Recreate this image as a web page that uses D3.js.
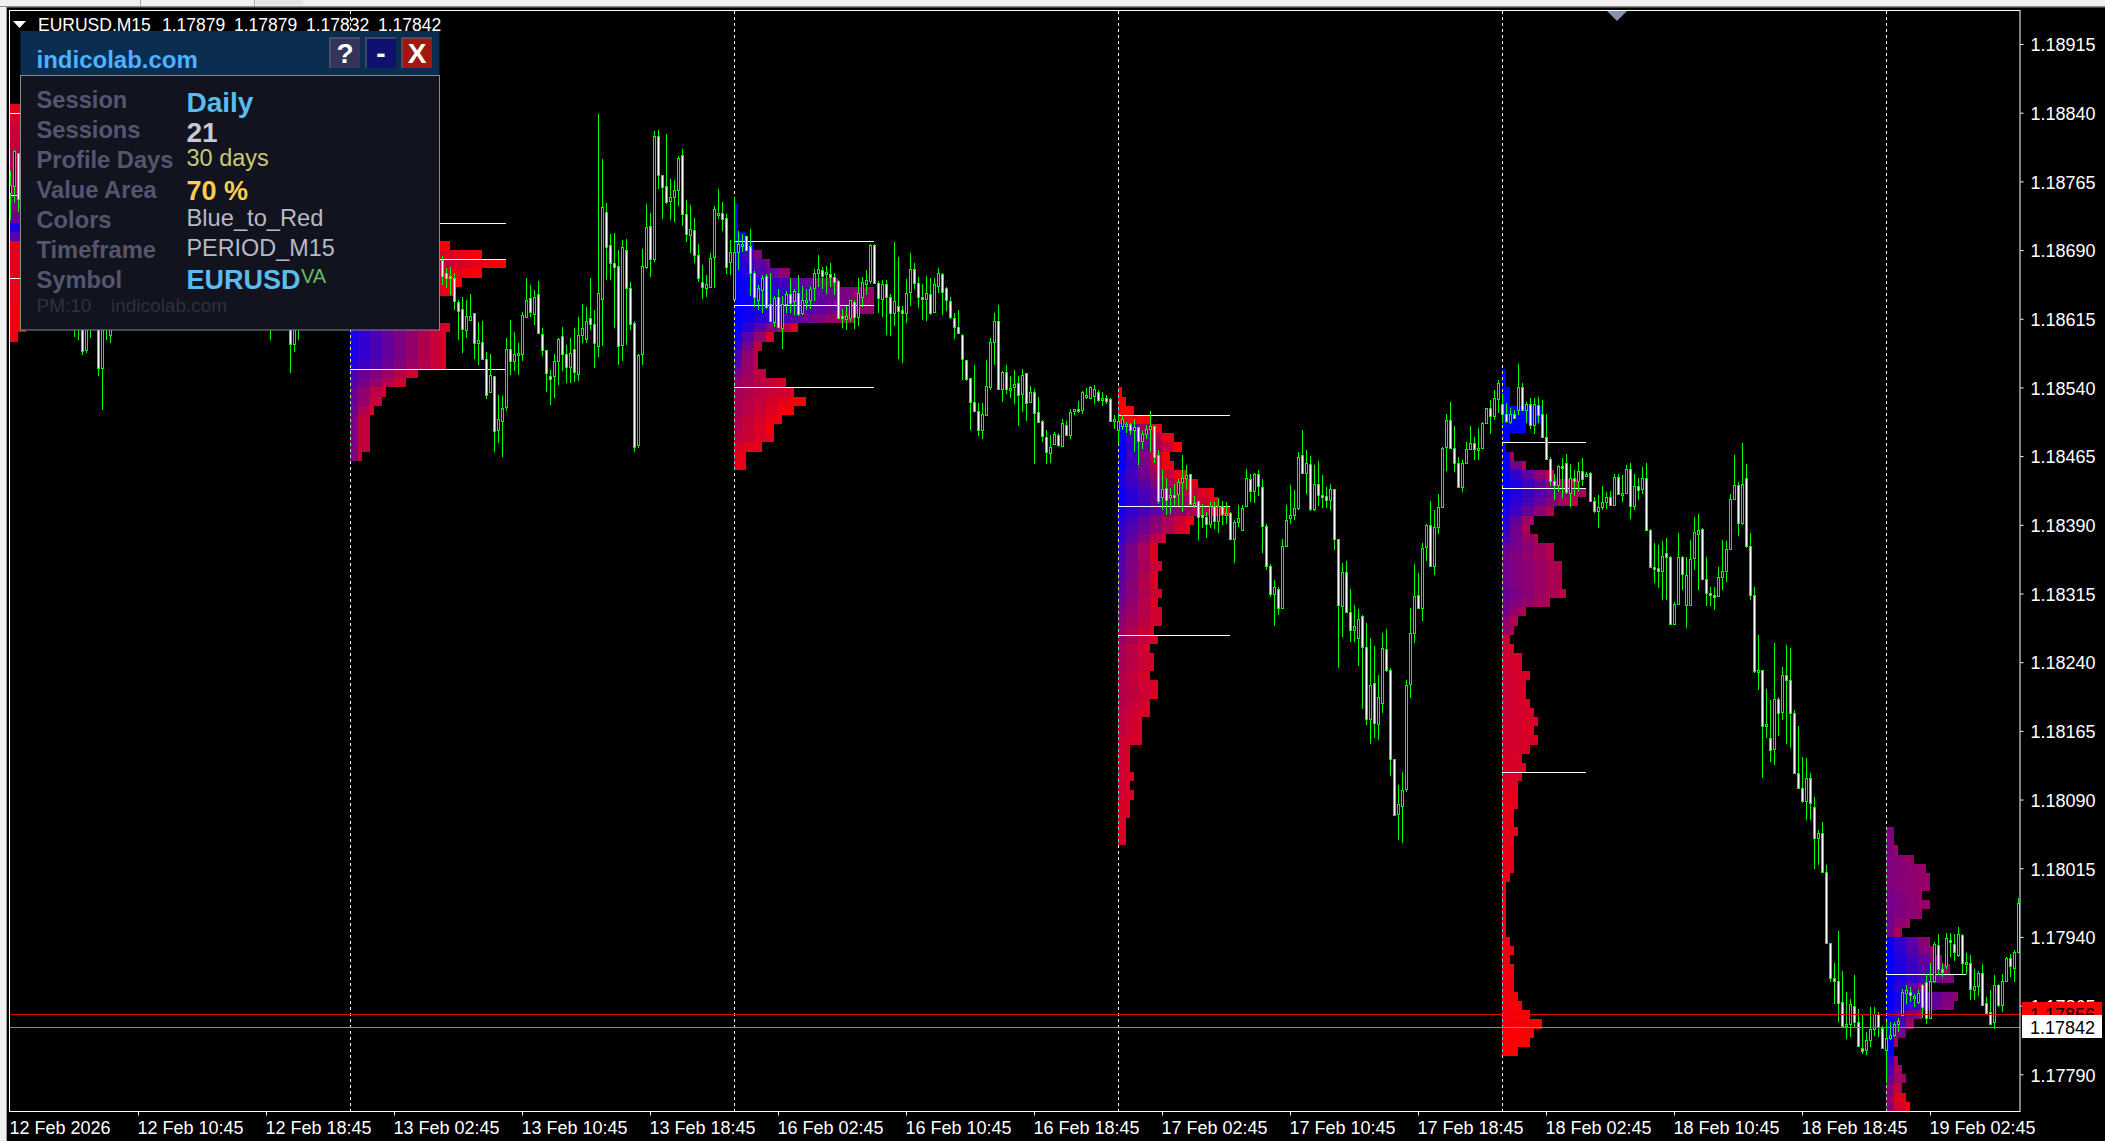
<!DOCTYPE html>
<html><head><meta charset="utf-8">
<script src="https://cdn.jsdelivr.net/npm/d3@7/dist/d3.min.js"></script>
<style>html,body{margin:0;padding:0;background:#000;overflow:hidden}svg{display:block;isolation:isolate}text{font-family:"Liberation Sans",Arial,sans-serif}</style>
</head><body><div id="chart"></div>
<script>
// Prices are in 1/100000 above 1.0 (18690 = 1.18690). Bars are [open, high, low, close].
const priceTicks=[18915,18840,18765,18690,18615,18540,18465,18390,18315,18240,18165,18090,18015,17940,17865,17790];
const timeTickBars=[0,32,64,96,128,160,192,224,256,288,320,352,384,416,448,480];
const timeLabels=["12 Feb 2026","12 Feb 10:45","12 Feb 18:45","13 Feb 02:45","13 Feb 10:45","13 Feb 18:45","16 Feb 02:45","16 Feb 10:45","16 Feb 18:45","17 Feb 02:45","17 Feb 10:45","17 Feb 18:45","18 Feb 02:45","18 Feb 10:45","18 Feb 18:45","19 Feb 02:45"];
const sessionBars=[85,181,277,373,469];
const lastBar=502;
const bidPrice=17842, askPrice=17856;

const barsFeb12Index=[0,1,2,16,17,18,19,20,22,23,24,25,65,70,71,72];
const barsFeb12=[[18752,18776,18723,18761],[18760,18799,18741,18798],[18796,18796,18732,18746],[18630,18640,18595,18620],[18625,18640,18592,18620],[18630,18640,18575,18580],[18581,18640,18578,18625],[18625,18640,18594,18620],[18630,18640,18552,18561],[18561,18640,18515,18625],[18625,18640,18592,18620],[18597,18640,18589,18625],[18625,18640,18592,18620],[18640,18650,18556,18587],[18587,18650,18579,18640],[18625,18640,18592,18620]];

const barsFeb13Start=108;
const barsFeb13=[[18679,18684,18652,18662],[18665,18670,18649,18660],[18662,18671,18641,18660],[18660,18665,18625,18634],[18633,18636,18592,18624],[18626,18639,18578,18604],[18603,18636,18594,18618],[18614,18642,18612,18618],[18621,18621,18571,18589],[18588,18611,18564,18592],[18590,18612,18571,18571],[18571,18579,18527,18532],[18535,18576,18534,18554],[18553,18553,18469,18492],[18493,18532,18479,18505],[18503,18531,18464,18517],[18519,18594,18514,18582],[18582,18614,18554,18569],[18569,18601,18558,18577],[18575,18588,18554,18578],[18577,18622,18569,18619],[18617,18660,18616,18636],[18638,18652,18617,18622],[18620,18646,18608,18639],[18642,18656,18598,18599],[18598,18605,18574,18581],[18581,18581,18535,18556],[18553,18559,18521,18549],[18552,18577,18529,18569],[18569,18594,18543,18593],[18596,18606,18558,18576],[18577,18586,18545,18562],[18562,18594,18545,18578],[18582,18605,18546,18557],[18555,18617,18547,18597],[18597,18631,18589,18605],[18593,18628,18588,18612],[18616,18660,18603,18609],[18609,18625,18561,18589],[18585,18839,18573,18643],[18637,18789,18585,18737],[18732,18741,18657,18693],[18695,18708,18657,18676],[18676,18709,18605,18672],[18673,18690,18564,18585],[18586,18701,18569,18693],[18690,18702,18586,18649],[18649,18655,18603,18609],[18610,18613,18469,18475],[18477,18577,18474,18575],[18576,18691,18564,18673],[18672,18740,18669,18715],[18716,18730,18661,18680],[18680,18820,18677,18815],[18815,18821,18757,18772],[18772,18772,18724,18759],[18760,18817,18740,18742],[18744,18768,18723,18748],[18748,18767,18721,18756],[18756,18793,18738,18791],[18794,18800,18716,18729],[18729,18745,18699,18707],[18706,18739,18687,18713],[18712,18725,18676,18685],[18685,18697,18655,18659],[18655,18674,18637,18650],[18649,18663,18639,18653],[18650,18687,18649,18681],[18682,18738,18649,18735],[18728,18757,18724,18730],[18731,18743,18711,18724],[18725,18729,18664,18672],[18677,18701,18663,18688]];

const barsFeb16Start=181;
const barsFeb16=[[18637,18748,18636,18688],[18688,18711,18668,18697],[18695,18707,18688,18697],[18705,18705,18689,18690],[18694,18713,18640,18665],[18665,18667,18628,18639],[18635,18652,18625,18649],[18646,18663,18621,18659],[18662,18664,18626,18628],[18631,18665,18611,18612],[18611,18640,18606,18638],[18639,18647,18606,18606],[18605,18640,18582,18631],[18631,18645,18621,18642],[18642,18659,18621,18632],[18634,18647,18619,18645],[18643,18663,18618,18620],[18621,18651,18619,18635],[18634,18647,18625,18636],[18635,18651,18626,18647],[18649,18669,18634,18665],[18665,18685,18650,18669],[18668,18672,18647,18662],[18664,18673,18642,18666],[18664,18676,18650,18661],[18661,18665,18641,18655],[18656,18657,18615,18616],[18618,18626,18605,18617],[18615,18629,18603,18618],[18616,18636,18612,18635],[18633,18636,18604,18617],[18617,18659,18607,18643],[18639,18661,18628,18655],[18653,18668,18641,18657],[18656,18697,18653,18696],[18696,18697,18653,18654],[18654,18656,18621,18638],[18637,18657,18617,18653],[18653,18657,18597,18639],[18639,18642,18596,18621],[18621,18699,18607,18634],[18629,18682,18571,18623],
[18625,18629,18567,18621],[18621,18658,18610,18643],[18644,18687,18629,18669],[18669,18676,18647,18654],[18654,18661,18627,18639],[18639,18653,18614,18638],[18637,18662,18613,18643],[18642,18659,18619,18621],[18622,18659,18622,18653],[18651,18670,18643,18665],[18664,18665,18619,18644],[18649,18650,18624,18636],[18634,18639,18615,18617],[18616,18621,18593,18606],[18606,18625,18599,18599],[18597,18598,18548,18571],[18570,18570,18547,18549],[18550,18550,18494,18524],[18524,18564,18513,18514],[18514,18523,18487,18494],[18493,18523,18484,18511],[18510,18570,18509,18542],[18540,18594,18537,18590],[18590,18621,18564,18612],[18612,18630,18537,18538],[18538,18558,18524,18557],[18557,18565,18533,18538],[18539,18552,18528,18539],[18540,18559,18522,18544],[18545,18552,18498,18532],[18533,18560,18513,18554],[18556,18556,18503,18523],[18524,18542,18523,18535],[18535,18538,18456,18512],[18513,18530,18501,18502],[18503,18504,18480,18487],[18486,18494,18456,18470],[18468,18488,18457,18475],[18478,18491,18477,18489],[18488,18490,18475,18477],[18476,18506,18475,18501],[18499,18503,18487,18488],[18488,18516,18484,18513],[18514,18516,18510,18516],[18516,18525,18512,18514],[18515,18536,18511,18535],[18530,18539,18527,18532],[18528,18542,18527,18541],[18531,18543,18522,18538],[18535,18537,18524,18526],[18526,18535,18520,18528],[18528,18532,18522,18525],[18527,18528,18503,18503],[18503,18510,18495,18505]];

const barsFeb17Start=277;
const barsFeb17=[[18494,18510,18478,18503],[18498,18510,18493,18506],[18498,18502,18490,18500],[18500,18501,18488,18493],[18493,18505,18470,18497],[18497,18497,18455,18482],[18482,18492,18473,18489],[18489,18499,18484,18495],[18495,18514,18470,18498],[18498,18498,18457,18464],[18466,18472,18413,18416],[18420,18450,18406,18429],[18430,18441,18401,18417],[18420,18430,18402,18423],[18423,18435,18410,18421],[18424,18440,18410,18437],[18437,18466,18404,18441],[18441,18455,18428,18444],[18445,18445,18412,18413],[18413,18421,18408,18414],[18416,18416,18373,18399],[18401,18413,18386,18398],[18398,18404,18376,18391],[18391,18415,18386,18410],[18411,18415,18385,18394],[18394,18419,18381,18411],[18411,18416,18390,18402],[18402,18415,18391,18403],[18403,18404,18375,18375],[18375,18395,18348,18393],[18393,18412,18388,18397],[18384,18412,18383,18408],[18410,18451,18409,18441],[18440,18446,18415,18427],[18427,18447,18414,18445],[18445,18450,18421,18432],[18431,18440,18359,18389],[18389,18391,18341,18345],[18345,18347,18311,18314],[18314,18330,18280,18322],[18320,18322,18292,18299],[18299,18375,18298,18367],[18367,18412,18366,18395],[18397,18433,18391,18401],[18401,18428,18395,18408],[18408,18470,18406,18464],[18466,18493,18445,18447],[18447,18472,18424,18458],[18456,18465,18405,18407],[18407,18455,18405,18435],[18435,18460,18411,18423],[18423,18444,18408,18421],[18421,18431,18408,18417],[18417,18435,18406,18429],[18429,18429,18363,18374],[18374,18375,18234,18302],[18301,18348,18267,18338],[18338,18351,18295,18295],[18295,18320,18262,18275],[18275,18302,18262,18279],[18266,18298,18236,18287],[18290,18291,18189,18257],[18257,18283,18171,18178],[18178,18266,18151,18215],[18217,18258,18157,18174],[18173,18226,18155,18202],[18195,18272,18184,18255],[18254,18276,18229,18231],[18231,18234,18116,18134],[18134,18134,18073,18073],[18074,18106,18046,18085],[18083,18120,18043,18100],[18101,18220,18098,18215],[18216,18299,18201,18272],[18272,18347,18261,18312],[18313,18337,18298,18299],[18299,18370,18285,18365],[18366,18391,18350,18390],[18390,18416,18344,18345],[18345,18406,18335,18388],[18388,18424,18380,18409],[18409,18475,18409,18474],[18475,18511,18449,18504],[18504,18524,18473,18474],[18474,18498,18448,18458],[18458,18464,18431,18431],[18431,18461,18426,18458],[18458,18480,18457,18473],[18473,18498,18472,18479],[18479,18486,18461,18473],[18473,18496,18461,18474],[18474,18502,18473,18501],[18501,18518,18500,18517],[18517,18526,18489,18509],[18509,18537,18504,18529],[18527,18548,18512,18545]];

const barsFeb18Start=373;
const barsFeb18=[[18522,18534,18501,18511],[18511,18523,18501,18503],[18502,18517,18500,18511],[18511,18515,18505,18507],[18515,18566,18510,18541],[18541,18545,18514,18515],[18515,18524,18501,18522],[18522,18528,18495,18499],[18499,18529,18489,18522],[18521,18530,18501,18510],[18511,18526,18486,18486],[18486,18511,18462,18462],[18462,18464,18432,18438],[18438,18446,18417,18433],[18433,18455,18426,18454],[18454,18463,18419,18452],[18458,18467,18424,18426],[18425,18456,18409,18441],[18441,18450,18421,18438],[18438,18459,18426,18449],[18449,18463,18432,18440],[18444,18448,18443,18445],[18447,18448,18415,18416],[18416,18420,18403,18405],[18405,18423,18387,18409],[18409,18432,18406,18415],[18415,18426,18407,18420],[18420,18427,18410,18412],[18412,18446,18411,18442],[18442,18446,18423,18424],[18424,18444,18415,18425],[18425,18455,18425,18451],[18451,18457,18396,18410],[18410,18446,18406,18432],[18432,18441,18417,18428],[18429,18453,18424,18441],[18441,18457,18384,18384],[18384,18385,18344,18344],[18344,18370,18327,18343],[18343,18368,18321,18340],[18340,18372,18308,18356],[18359,18376,18308,18355],[18355,18356,18281,18282],[18282,18306,18282,18304],[18304,18381,18302,18355],[18355,18356,18319,18336],[18302,18355,18277,18335],[18302,18373,18302,18353],[18354,18399,18341,18382],[18380,18402,18319,18384],[18385,18386,18330,18331],[18331,18355,18301,18315],[18315,18322,18301,18313],[18313,18322,18297,18312],[18312,18344,18312,18333],[18333,18373,18319,18340],[18340,18372,18328,18364],[18364,18424,18363,18418],[18418,18466,18417,18433],[18434,18437,18378,18392],[18392,18479,18390,18435],[18441,18456,18365,18367],[18367,18381,18308,18313],[18313,18322,18228,18230],[18230,18270,18210,18231],[18231,18232,18114,18170],[18170,18211,18157,18172],[18157,18199,18131,18144],[18145,18261,18128,18200],[18200,18202,18159,18185],[18186,18235,18177,18226],[18226,18259,18151,18220],[18220,18255,18146,18184],[18184,18188,18119,18119],[18119,18170,18102,18103],[18103,18137,18086,18088],[18088,18135,18068,18114],[18114,18119,18068,18086],
[18082,18093,18014,18048],[18048,18057,18019,18054],[18053,18065,18010,18011],[18011,18018,17932,17933],[17933,17933,17891,17895],[17895,17912,17867,17892],[17892,17946,17847,17868],[17869,17903,17841,17843],[17843,17880,17829,17845],[17845,17872,17831,17867],[17865,17898,17841,17847],[17847,17861,17820,17821],[17819,17856,17812,17815],[17816,17836,17811,17827],[17827,17864,17820,17840],[17840,17863,17832,17856],[17856,17858,17831,17842],[17841,17843,17818,17819]];

const barsFeb19Start=469;
const barsFeb19=[[17817,17847,17780,17830],[17830,17847,17827,17833],[17833,17847,17831,17845],[17845,17852,17836,17848],[17855,17883,17854,17880],[17879,17887,17867,17882],[17880,17885,17869,17877],[17873,17878,17863,17876],[17869,17882,17867,17879],[17888,17889,17852,17864],[17891,17899,17845,17851],[17852,17911,17851,17892],[17892,17934,17890,17932],[17931,17943,17898,17905],[17905,17912,17896,17902],[17908,17944,17905,17939],[17937,17944,17918,17934],[17932,17943,17914,17924],[17920,17951,17918,17943],[17942,17943,17900,17912],[17912,17922,17900,17913],[17912,17920,17871,17883],[17882,17905,17871,17886],[17886,17903,17876,17901],[17901,17910,17865,17866],[17868,17874,17856,17857],[17858,17882,17845,17845],[17847,17898,17840,17887],[17888,17889,17864,17866],[17866,17900,17858,17892],[17892,17918,17891,17917],[17917,17921,17896,17908],[17906,17926,17891,17924],[17924,17982,17923,17977]];

// Volume-profile rows: top price of first row, width in bars per row, blue-to-red share at left and right end
const rowStep=10;
const profile12={bar:0,top:18850,lines:[18840,18750,18660],lineBars:4};
const counts12=[3,3,3,3,3,3,3,3,3,3,3,3,3,3,3,3,3,3,3,3,3,3,3,3,4,2];
const left12=[.9,.85,.8,.8,.75,.7,.7,.65,.65,.6,.55,.5,.4,.1,.35,.9,.9,.9,.9,.92,.92,.92,.95,.95,.95,.95];
const right12=left12;
const profile13={bar:85,top:18700,lines:[18720,18680,18560],lineBars:39};
const counts13=[25,33,39,33,28,26,22,22,22,25,24,24,24,24,17,14,9,8,6,5,5,5,5,3];
const left13=[.5,.45,.4,.4,.35,.3,.25,.2,.15,.1,.1,.1,.1,.15,.3,.35,.4,.4,.45,.5,.5,.5,.5,.5];
const right13=[1,1,1,1,.95,.95,.9,.9,.85,.85,.85,.85,.85,.85,.85,.85,.85,.85,.85,.85,.85,.85,.85,.8];
const profile16={bar:181,top:18740,lines:[18700,18630,18540],lineBars:35};
const counts16=[1,1,1,3,5,7,9,14,26,35,35,35,30,16,10,7,6,6,8,13,15,18,15,12,10,10,7,3,3];
const left16=[0,0,0,0,0,0,0,0,0,0,0,0,0,0,.1,.2,.3,.35,.5,.6,.65,.65,.65,.7,.7,.75,.85,.9,.9];
const right16=[0,0,0,0,0,.5,.5,.6,.55,.6,.6,.6,.7,.85,.85,.75,.75,.75,.8,.85,.85,1,1,.95,.95,.9,.9,.9,.9];
const profile17={bar:277,top:18540,lines:[18510,18410,18270],lineBars:28};
const counts17=[1,2,4,8,11,14,16,13,14,17,20,24,25,28,19,18,12,10,10,11,10,10,11,10,11,11,9,10,8,9,9,8,10,10,8,8,6,6,6,3,3,3,4,3,4,3,3,2,2,2];
const left17=[1,1,1,.9,0,0,0,0,0,.1,.1,.05,.05,.1,.15,.2,.2,.3,.3,.35,.35,.4,.4,.45,.5,.55,.6,.6,.65,.65,.65,.7,.7,.7,.7,.75,.75,.75,.8,.8,.8,.8,.8,.8,.8,.85,.85,.85,.85,.85];
const right17=[1,1,1,1,1,1,1,1,1,1,.95,.95,.9,.9,.9,.9,.85,.85,.85,.85,.85,.85,.85,.85,.85,.85,.85,.85,.85,.85,.85,.85,.85,.85,.85,.85,.85,.85,.85,.85,.85,.85,.85,.85,.85,.85,.85,.85,.85,.85];
const profile18={bar:373,top:18560,lines:[18480,18430,18120],lineBars:21};
const counts18=[1,1,2,2,10,10,6,2,1,3,6,13,19,21,19,13,8,7,9,13,13,15,15,15,16,12,6,4,3,2,3,5,5,7,6,6,7,8,9,8,9,7,5,6,5,4,4,4,3,3,4,3,3,3,3,2,1,1,1,1,1,1,2,3,2,3,3,3,4,5,7,10,8,7,4];
const left18=[0,0,0,0,0,0,0,0,0,0,0,0,0,0,.05,.1,.15,.2,.3,.4,.45,.45,.45,.45,.4,.45,.45,.55,.6,.8,.8,.8,.8,.8,.8,.8,.8,.8,.82,.82,.82,.82,.85,.85,.85,.88,.9,.9,.9,.9,.9,.9,.9,.9,.9,.92,.92,.92,.92,.92,.92,.92,.93,.93,.95,.95,.95,.95,.95,.95,.95,.95,.97,.98,1];
const right18=[0,0,0,0,0,0,0,0,0,.65,.7,.75,.75,.7,.75,.7,.7,.7,.7,.7,.7,.7,.7,.7,.75,.7,.7,.7,.7,.8,.85,.85,.85,.85,.85,.85,.85,.85,.85,.85,.85,.85,.85,.85,.85,.88,.9,.9,.9,.9,.9,.9,.9,.9,.9,.92,.92,.92,.92,.92,.92,.92,.93,.93,.95,.95,.95,.95,.95,.97,1,.97,1,1,1];
const profile19={bar:469,top:18060,lines:[17900],lineBars:20};
const counts19=[2,2,3,7,10,11,11,9,11,9,6,4,11,12,14,16,17,10,18,17,9,7,5,3,2,3,4,5,4,5,6,6];
const left19=[.5,.5,.5,.5,.5,.5,.5,.45,.45,.45,.45,.45,0,0,0,0,0,0,0,0,0,0,0,0,0,.2,.3,.4,.55,.55,.55,.55];
const right19=[.6,.6,.6,.6,.6,.6,.6,.6,.6,.6,.65,.65,.6,.6,.55,.55,.55,.55,.55,.55,.6,.6,.6,.65,0,.65,.65,.7,.75,1,1,1];

const W=2105,H=1141;
const plot={l:10,r:2020,t:11,b:1111};
const x=d3.scaleLinear().domain([0,lastBar]).range([10,2018]);
const y=d3.scaleLinear().domain([17790,18915]).range([1074.3,44]);
const barPx=x(1)-x(0);
const mixColor=d3.scaleLinear().domain([0,1]).range(["#0000ff","#ff0000"]);

const svg=d3.select("#chart").append("svg").attr("width",W).attr("height",H);
svg.append("rect").attr("width",W).attr("height",H).attr("fill","#000");
svg.append("defs").append("clipPath").attr("id","plotClip").append("rect")
  .attr("x",plot.l).attr("y",plot.t).attr("width",plot.r-plot.l).attr("height",plot.b-plot.t);

// window chrome
const chrome=svg.append("g");
chrome.append("rect").attr("width",W).attr("height",6).attr("fill","#f0f0f0");
chrome.append("rect").attr("y",6).attr("width",W).attr("height",1.5).attr("fill","#8a8a8a");
chrome.append("rect").attr("y",7).attr("width",6).attr("height",H-7).attr("fill","#f0f0f0");
chrome.append("rect").attr("x",6).attr("y",7).attr("width",1).attr("height",H-7).attr("fill","#9a9a9a");
chrome.append("rect").attr("x",140).attr("width",1).attr("height",6).attr("fill","#a8a8a8");
chrome.append("rect").attr("x",254).attr("width",1).attr("height",6).attr("fill","#a8a8a8");
chrome.append("rect").attr("x",256).attr("width",47).attr("height",5).attr("fill","#e2e2e2");

const plotG=svg.append("g").attr("clip-path","url(#plotClip)");

// profiles: the colour holds for three cells at a time, as in the reference
const profiles=[[profile12,counts12,left12,right12],[profile13,counts13,left13,right13],[profile16,counts16,left16,right16],[profile17,counts17,left17,right17],[profile18,counts18,left18,right18],[profile19,counts19,left19,right19]];
const cells=[];
profiles.forEach(([p,counts,lf,rt])=>{
  counts.forEach((n,r)=>{
    const top=p.top-r*rowStep;
    for(let c=0;c<n;c++){
      const t=n>1?Math.min(1,Math.round(c/3)*3/(n-1)):1;
      cells.push({bar:p.bar+c,top,mix:lf[r]+(rt[r]-lf[r])*t});
    }
  });
});
plotG.append("g").attr("shape-rendering","crispEdges").selectAll("rect").data(cells).join("rect")
  .attr("x",d=>x(d.bar)).attr("width",barPx)
  .attr("y",d=>Math.round(y(d.top)))
  .attr("height",d=>Math.round(y(d.top-rowStep))-Math.round(y(d.top)))
  .attr("fill",d=>mixColor(d.mix));

// session separators (xor look on the profile)
plotG.append("g").selectAll("line").data(sessionBars).join("line")
  .attr("x1",d=>x(d)+.5).attr("x2",d=>x(d)+.5).attr("y1",plot.t).attr("y2",plot.b)
  .attr("stroke","#fff").attr("stroke-width",1).attr("stroke-dasharray","3,3")
  .style("mix-blend-mode","difference");

// value area lines
const levels=profiles.flatMap(([p])=>p.lines.map(v=>({v,bar:p.bar,n:p.lineBars})));
plotG.append("g").attr("shape-rendering","crispEdges").selectAll("line").data(levels).join("line")
  .attr("x1",d=>x(d.bar)).attr("x2",d=>x(d.bar+d.n))
  .attr("y1",d=>Math.round(y(d.v))+.5).attr("y2",d=>Math.round(y(d.v))+.5)
  .attr("stroke","#fff").attr("stroke-width",1);

// candles
const indexed=(arr,start)=>arr.map((b,i)=>({i:start+i,o:b[0],h:b[1],l:b[2],c:b[3]}));
const bars=[].concat(
  barsFeb12.map((b,k)=>({i:barsFeb12Index[k],o:b[0],h:b[1],l:b[2],c:b[3]})),
  indexed(barsFeb13,barsFeb13Start),indexed(barsFeb16,barsFeb16Start),indexed(barsFeb17,barsFeb17Start),
  indexed(barsFeb18,barsFeb18Start),indexed(barsFeb19,barsFeb19Start));
const candle=plotG.append("g").attr("shape-rendering","crispEdges").selectAll("g").data(bars).join("g");
candle.append("rect").attr("x",d=>x(d.i)).attr("width",1)
  .attr("y",d=>Math.round(y(d.h))).attr("height",d=>Math.max(1,Math.round(y(d.l))-Math.round(y(d.h))))
  .attr("fill","#00ff00");
const bodyTop=d=>Math.round(y(Math.max(d.o,d.c)));
const bodyH=d=>Math.max(2,Math.round(y(Math.min(d.o,d.c)))-bodyTop(d));
candle.append("rect").attr("x",d=>x(d.i)-1).attr("width",3)
  .attr("y",bodyTop).attr("height",d=>bodyH(d)+1).attr("fill","#00ff00");
candle.append("rect").attr("x",d=>x(d.i)).attr("width",1)
  .attr("y",d=>bodyTop(d)+1).attr("height",d=>bodyH(d)-1)
  .attr("fill",d=>d.c<d.o?"#ffffff":"#000000");

// horizontal price lines
plotG.append("line").attr("x1",plot.l).attr("x2",plot.r).attr("y1",Math.round(y(askPrice))+.5).attr("y2",Math.round(y(askPrice))+.5).attr("stroke","#e00000");
plotG.append("line").attr("x1",plot.l).attr("x2",plot.r).attr("y1",Math.round(y(bidPrice))+.5).attr("y2",Math.round(y(bidPrice))+.5).attr("stroke","#7a8a9a");
plotG.append("path").attr("d",`M1607,11L1627,11L1617,21Z`).attr("fill","#8494a6");

// frame
svg.append("rect").attr("x",9.5).attr("y",10.5).attr("width",plot.r-9.5).attr("height",plot.b-10).attr("fill","none").attr("stroke","#fff");

// axes
const fmt=v=>(1+v/100000).toFixed(5);
const yAxis=svg.append("g").attr("transform",`translate(${plot.r+.5},0)`)
  .call(d3.axisRight(y).tickValues(priceTicks).tickFormat(fmt).tickSize(3).tickPadding(7));
yAxis.select(".domain").remove();
yAxis.selectAll("line").attr("stroke","#fff");
yAxis.selectAll("text").attr("fill","#fff").attr("font-size",18).attr("font-family","Liberation Sans").attr("transform","translate(0,1)");
const xAxis=svg.append("g").attr("transform",`translate(0,${plot.b+.5})`)
  .call(d3.axisBottom(x).tickValues(timeTickBars).tickFormat((d,i)=>timeLabels[i]).tickSize(4).tickPadding(6));
xAxis.select(".domain").remove();
xAxis.selectAll("line").attr("stroke","#fff").attr("opacity",(d,i)=>i?1:0);
xAxis.selectAll("text").attr("fill","#fff").attr("font-size",18).attr("font-family","Liberation Sans").attr("text-anchor","start").attr("transform","translate(-1,0)");

// price tags
const tag=(v,fill,h0,h1)=>{
  svg.append("rect").attr("x",2022).attr("y",h0).attr("width",80).attr("height",h1-h0).attr("fill",fill);
  svg.append("text").attr("x",2030).attr("y",y(v)+7).attr("font-size",18).attr("fill","#000").text(fmt(v));
};
tag(askPrice,"#ff0000",1002,1015);
tag(bidPrice,"#ffffff",1015,1038);

// header text
svg.append("path").attr("d","M13,21L26,21L19.5,28Z").attr("fill","#fff");
const hdr=[["EURUSD.M15",38],["1.17879",162],["1.17879",234],["1.17832",306],["1.17842",378]];
svg.append("g").selectAll("text").data(hdr).join("text").attr("x",d=>d[1]).attr("y",31).attr("font-size",17.5).attr("fill","#fff").text(d=>d[0]);

// info panel
const pn=svg.append("g");
pn.append("rect").attr("x",20.5).attr("y",31).attr("width",419).attr("height",44).attr("fill","#0a2d50");
pn.append("rect").attr("x",20.5).attr("y",75.5).attr("width",419).attr("height",254.5).attr("fill","#11141e").attr("stroke","#8a8a8a");
pn.append("text").attr("x",36.5).attr("y",68).attr("font-size",24).attr("font-weight",700).attr("fill","#4db2ff").text("indicolab.com");
const btns=[[330,"#34345a","?"],[366,"#10106e","-"],[402,"#a01810","X"]];
btns.forEach(([bx,c,t])=>{
  pn.append("rect").attr("x",bx).attr("y",38).attr("width",30).attr("height",30).attr("fill",c);
  pn.append("path").attr("d",`M${bx},68V38H${bx+30}`).attr("fill","none").attr("stroke","#666a80").attr("stroke-width",1.5).attr("opacity",.7);
  pn.append("text").attr("x",bx+15).attr("y",63).attr("text-anchor","middle").attr("font-size",28).attr("font-weight",700).attr("fill","#fff").text(t);
});
const labelText=["Session","Sessions","Profile Days","Value Area","Colors","Timeframe","Symbol"];
const labelBase=[108,138,168,198,228,258,288];
labelText.forEach((t,i)=>pn.append("text").attr("x",36.5).attr("y",labelBase[i]).attr("font-size",23.7).attr("font-weight",700).attr("fill","#55556f").text(t));
const vals=[["Daily",112,28,700,"#5bbcf0"],["21",142,28,700,"#c8c8d8"],["30 days",166,23.5,400,"#c8c878"],["70 %",200,27,700,"#ffcc55"],["Blue_to_Red",226,23.7,400,"#b8b8c8"],["PERIOD_M15",256,23.4,400,"#b8b8c8"],["EURUSD",289,27,700,"#5bbcf0"]];
vals.forEach(([t,b,s,w,c])=>pn.append("text").attr("x",186.5).attr("y",b).attr("font-size",s).attr("font-weight",w).attr("fill",c).text(t));
pn.append("text").attr("x",301).attr("y",283).attr("font-size",20).attr("fill","#66bb66").text("VA");
pn.append("text").attr("x",36.5).attr("y",312).attr("font-size",19).attr("fill","#30303f").text("PM:10");
pn.append("text").attr("x",111).attr("y",312).attr("font-size",19).attr("fill","#30303f").text("indicolab.com");
</script></body></html>
